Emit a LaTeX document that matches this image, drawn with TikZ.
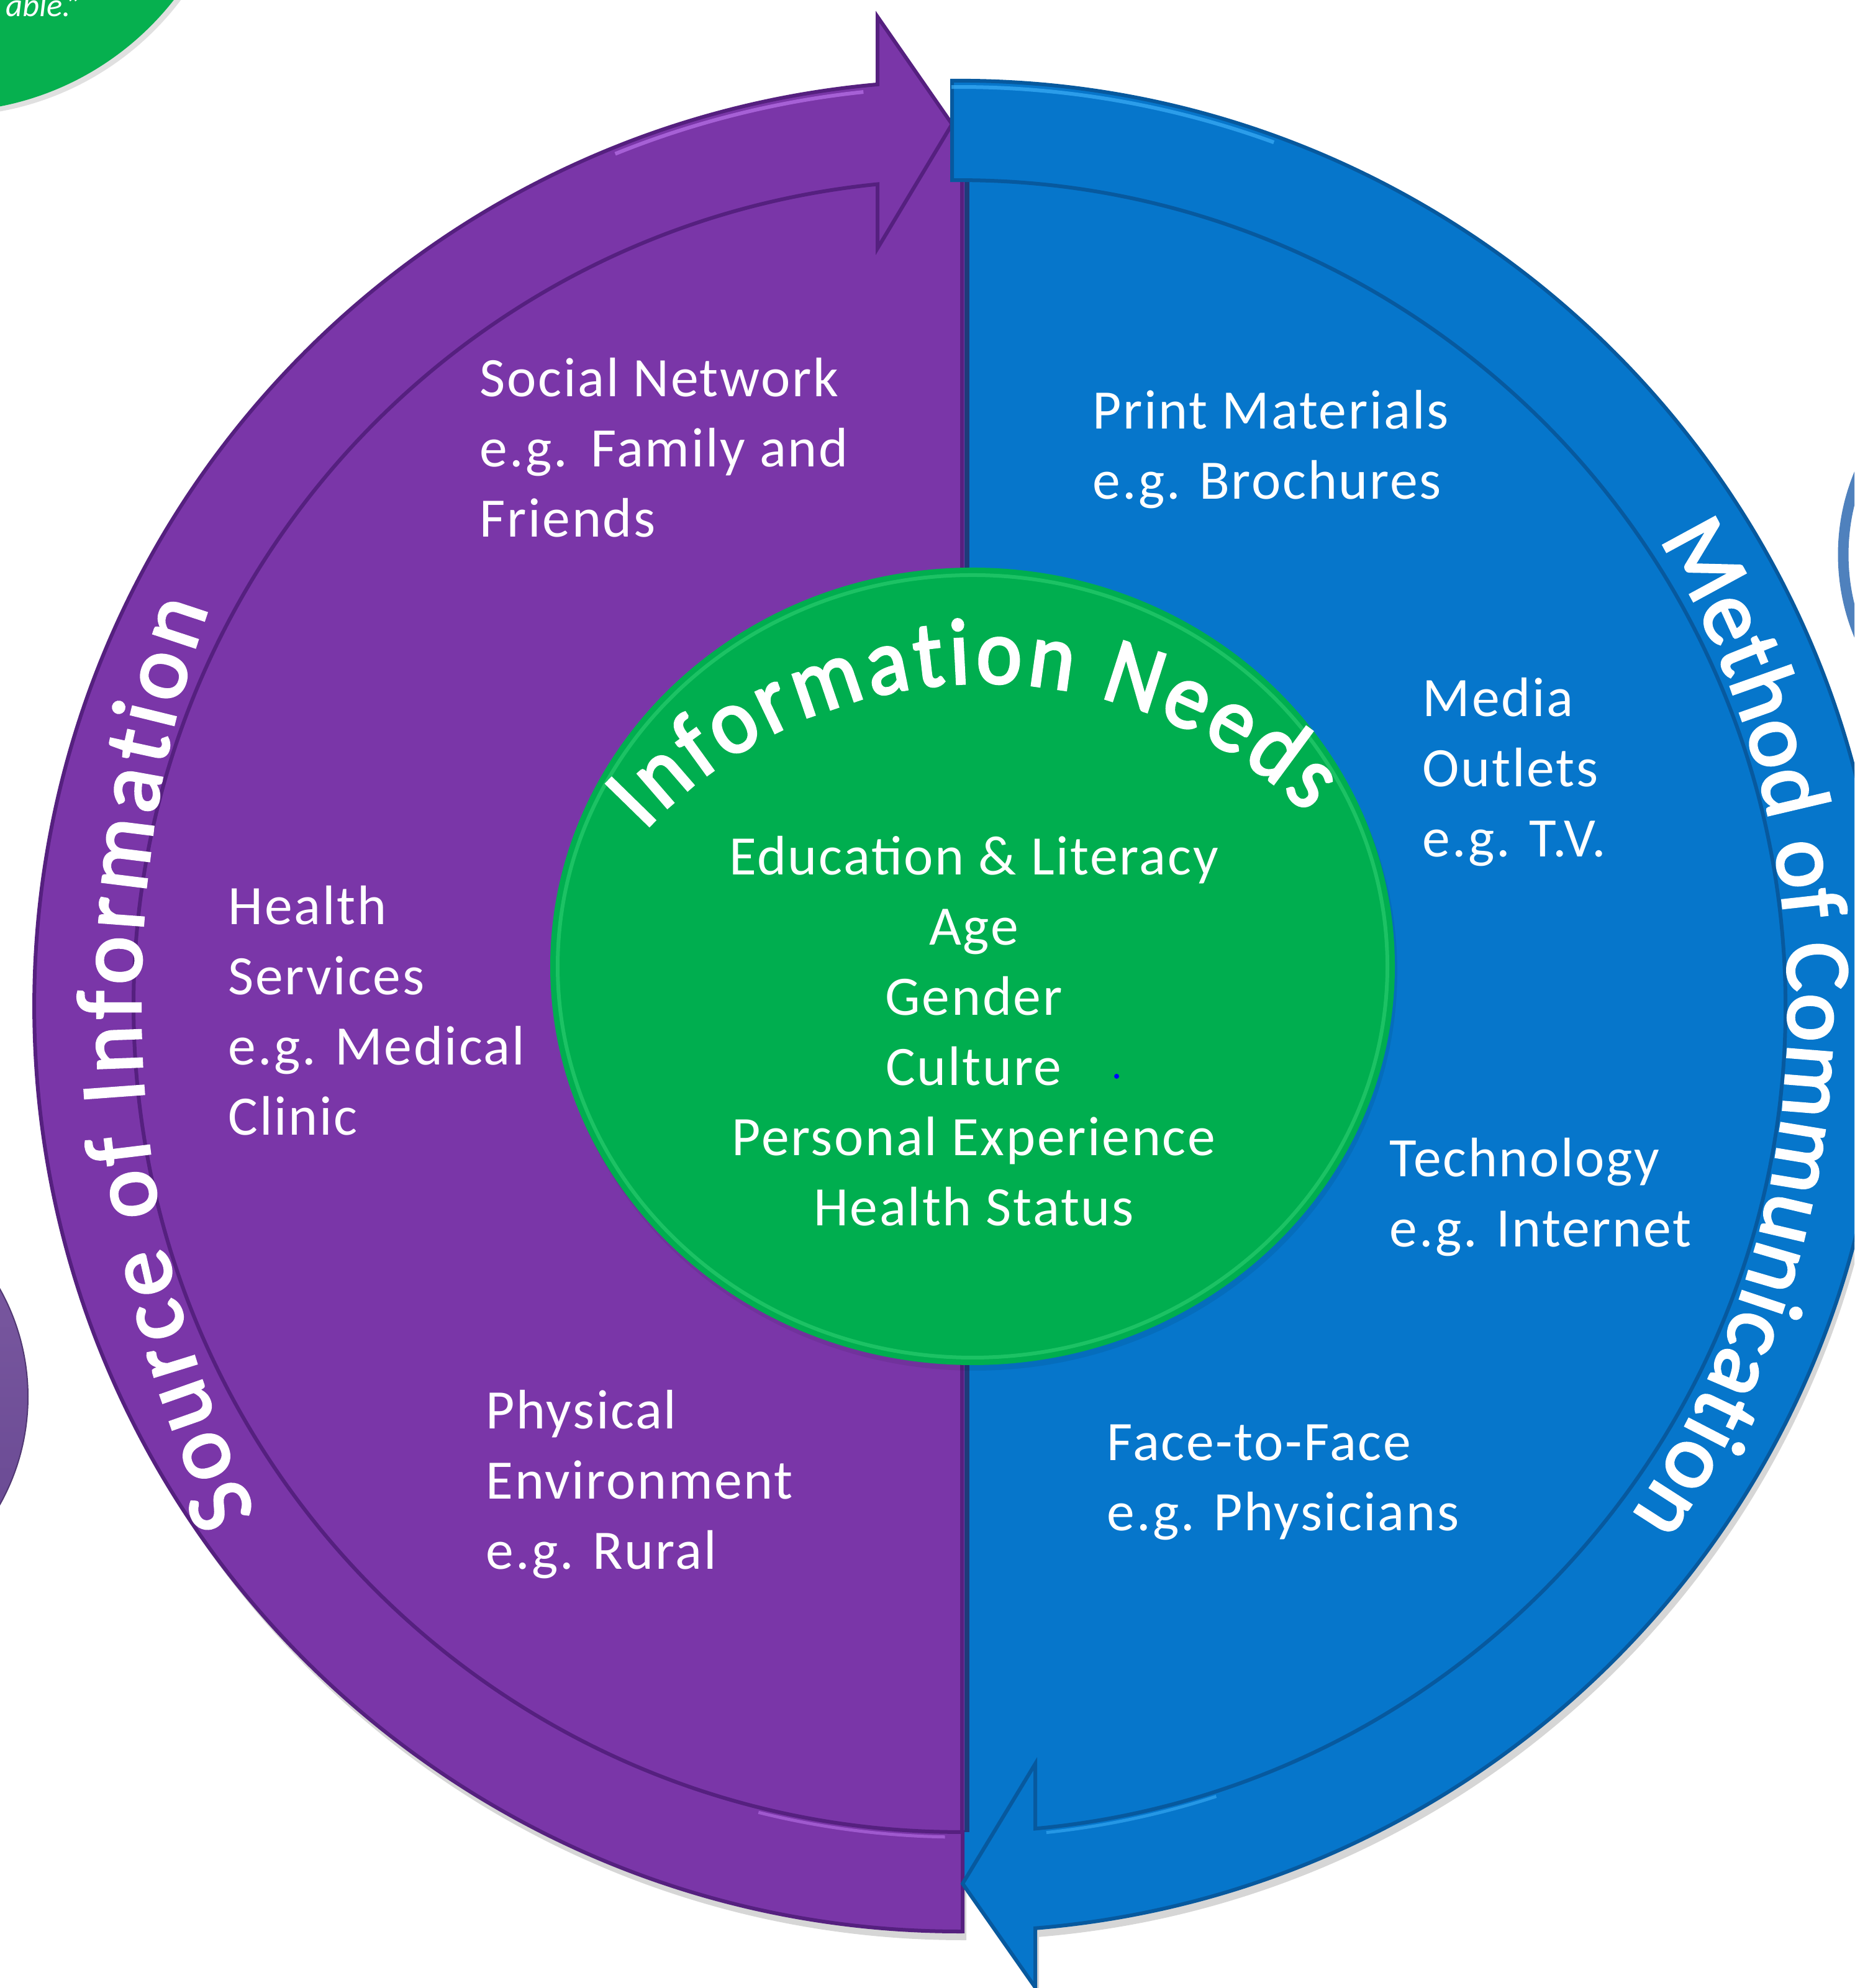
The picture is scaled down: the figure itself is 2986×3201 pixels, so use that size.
\documentclass[tikz,border=0pt]{standalone}
\usepackage{fontspec}
\setmainfont{Carlito}
\newfontfamily\bodyfam{Carlito}[LetterSpace=3]
\newfontfamily\ringfam{Carlito}[FakeBold=2.6]
\newfontfamily\needsfam{Carlito}[FakeStretch=0.92, FakeBold=2.6]
\usetikzlibrary{decorations.text}
\definecolor{purpleC}{HTML}{7A36A8}
\definecolor{purpleD}{HTML}{55207F}
\definecolor{purpleL}{HTML}{C47CF5}
\definecolor{blueC}{HTML}{0676CB}
\definecolor{blueD}{HTML}{07599E}
\definecolor{blueL}{HTML}{45B8FF}
\definecolor{navyD}{HTML}{1F3B7A}
\definecolor{greenC}{HTML}{00AE4F}
\definecolor{greenL}{HTML}{34D477}
\definecolor{cornerGreen}{HTML}{06B04F}
\definecolor{cornerPurpleT}{HTML}{7E5CA3}
\definecolor{cornerPurpleB}{HTML}{654690}
\definecolor{cornerBlue}{HTML}{4F81BD}
\newcommand{\bodyfont}{\bodyfam\fontsize{25.5}{32.1}\selectfont}
\newcommand{\ringtxt}{\color{white}\ringfam\fontsize{42}{50}\selectfont}
\newcommand{\needstxt}{\color{white}\needsfam\fontsize{43}{52}\selectfont}
\def\purplearrow{(5,-1490) arc[start angle=270.19, end angle=95.08, radius=1490] -- (-132,1593) -- (-12,1420) -- (-132,1220) -- (-132,1323.4) arc[start angle=95.70, end angle=270.22, radius=1330] -- cycle}
\def\bluearrow{(-12,1490) arc[start angle=90.46, end angle=-85.30, radius=1490] -- (122,-1580) -- (5,-1413) -- (122,-1220) -- (122,-1324.4) arc[start angle=-84.74, end angle=90.52, radius=1330] -- cycle}
\begin{document}
\begin{tikzpicture}[x=0.01cm, y=0.01cm,
  txt/.style={text=white, inner sep=0pt, font=\bodyfont},
  bandedge/.style={line width=0.06cm}]
\useasboundingbox (0,0) rectangle (2986,3201);
\clip (0,0) rectangle (2986,3201);
\fill[white] (0,0) rectangle (2986,3201);

% corner shapes
\fill[black, opacity=0.12] (-84,3484) circle[radius=470];
\fill[cornerGreen] (-90,3491) circle[radius=470];
\node[anchor=base east, text=white, inner sep=0pt, font=\fontsize{15}{18}\selectfont\itshape] (able) at (133,3174) {able.”};
\shade[top color=cornerPurpleT, bottom color=cornerPurpleB, draw=cornerPurpleB!80!black, line width=0.02cm] (-310,952) circle[radius=355];
\draw[cornerBlue, line width=0.17cm] (3308,2308) circle[radius=340];

% main ring
\begin{scope}[shift={(1545,1581)}]
  \fill[black, opacity=0.16, shift={(6,-14)}] \purplearrow;
  \fill[black, opacity=0.16, shift={(6,-14)}] \bluearrow;
  \begin{scope}
    \clip (-1600,-1600) rectangle (8,1600);
    \fill[purpleC] (0,0) circle[radius=1420];
  \end{scope}
  \begin{scope}
    \clip (8,-1600) rectangle (1600,1600);
    \fill[blueC] (0,0) circle[radius=1420];
  \end{scope}
  \draw[purpleD, line width=0.06cm] (4,-1330) -- (4,1330);
  \draw[navyD, line width=0.08cm] (12,-1330) -- (12,1330);
  \fill[purpleC, draw=purpleD, bandedge] \purplearrow;
  \fill[blueC, draw=blueD, bandedge] \bluearrow;
  % bevel highlights
  \draw[purpleL, line width=0.06cm, opacity=0.6] (96:1480) arc[start angle=96, end angle=112, radius=1480];
  \draw[blueL, line width=0.06cm, opacity=0.6] (90.5:1480) arc[start angle=90.5, end angle=70, radius=1480];
  \draw[purpleL, line width=0.05cm, opacity=0.5] (269:1338) arc[start angle=269, end angle=256, radius=1338];
  \draw[blueL, line width=0.05cm, opacity=0.5] (-84:1338) arc[start angle=-84, end angle=-72, radius=1338];
\end{scope}

% green centre
\fill[black, opacity=0.07] (1570,1636) ellipse[x radius=680, y radius=642];
\fill[greenC] (1566,1645) ellipse[x radius=680, y radius=642];
\draw[greenL, line width=0.06cm, opacity=0.55] (1566,1645) ellipse[x radius=668, y radius=630];

% curved titles
\path[decorate, decoration={text along path, text align=fit to path,
  text={|\ringtxt|Source of Information}}]
  (2134,1585) ++(205.5:1908) arc[start angle=205.5, end angle=160.5, radius=1908];
\path[decorate, decoration={text along path, text align=fit to path,
  text={|\ringtxt|Method of Communication}}]
  (1420,1581) ++(31:1460) arc[start angle=31, end angle=-34.2, radius=1460];
\path[decorate, decoration={text along path, text align=fit to path,
  text={|\needstxt|Information Needs}}]
  (1585,1353) ++(137:748) arc[start angle=137, end angle=46, radius=748];

% text blocks
\node[txt, anchor=base west] (social) at (772,2562)
  {\begin{tabular}[t]{@{}l@{}}Social Network\\e.g.\ \,Family and\\Friends\end{tabular}};
\node[txt, anchor=base west] (print) at (1759,2510)
  {\begin{tabular}[t]{@{}l@{}}Print Materials\\e.g. Brochures\end{tabular}};
\node[txt, anchor=base west] (media) at (2290,2047)
  {\begin{tabular}[t]{@{}l@{}}Media\\Outlets\\e.g. T.V.\end{tabular}};
\node[txt, anchor=base west] (health) at (367,1712)
  {\begin{tabular}[t]{@{}l@{}}Health\\Services\\e.g. Medical\\Clinic\end{tabular}};
\node[txt, anchor=base west] (tech) at (2237,1306)
  {\begin{tabular}[t]{@{}l@{}}Technology\\e.g. Internet\end{tabular}};
\node[txt, anchor=base west] (phys) at (782,900)
  {\begin{tabular}[t]{@{}l@{}}Physical\\Environment\\e.g. Rural\end{tabular}};
\node[txt, anchor=base west] (face) at (1782,849)
  {\begin{tabular}[t]{@{}l@{}}Face-to-Face\\e.g. Physicians\end{tabular}};
\node[txt, anchor=base] (needs) at (1568,1792)
  {\begin{tabular}[t]{@{}c@{}}Education \& Literacy\\Age\\Gender\\Culture\\Personal Experience\\Health Status\end{tabular}};
\fill[blue] (1798,1468) circle[radius=4];
\end{tikzpicture}
\end{document}
